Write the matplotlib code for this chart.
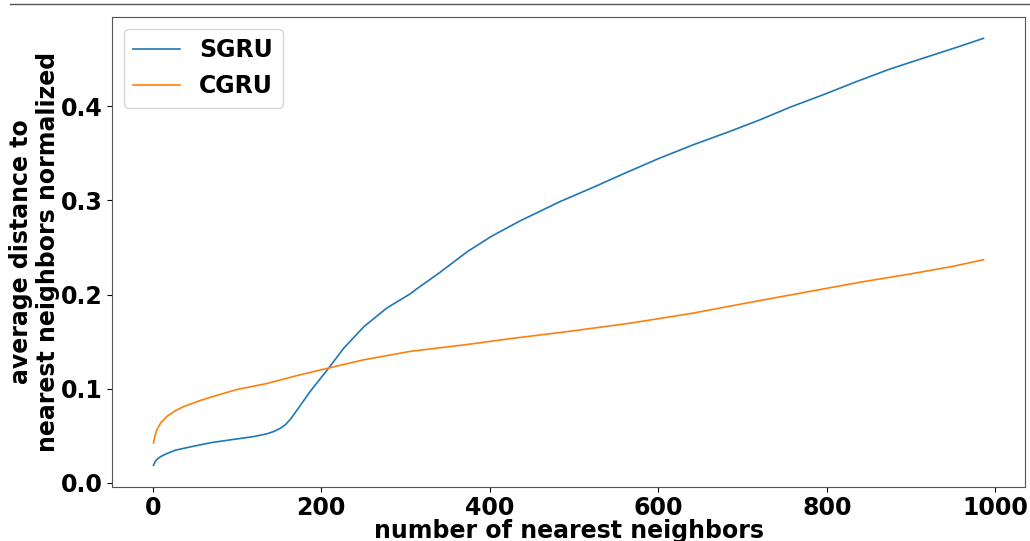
import matplotlib
matplotlib.use("Agg")
import matplotlib.pyplot as plt
from matplotlib.lines import Line2D

# SGRU curve
sgru_x = [1, 3, 6, 10, 17, 27, 37, 50, 69, 100, 120, 136, 144, 152, 158, 164, 172,
          187, 209, 227, 251, 278, 306, 312, 340, 374, 402, 435, 484, 523, 563,
          602, 642, 685, 721, 757, 796, 836, 875, 915, 954, 986]
sgru_y = [0.0184, 0.0225, 0.0255, 0.028, 0.031, 0.0345, 0.0365, 0.039, 0.0425,
          0.0465, 0.049, 0.052, 0.0545, 0.058, 0.062, 0.068, 0.078, 0.097, 0.1219,
          0.1432, 0.1661, 0.1857, 0.2009, 0.2051, 0.2229, 0.2459, 0.2618, 0.2778,
          0.2990, 0.3140, 0.3300, 0.3451, 0.3593, 0.3734, 0.3858, 0.3993, 0.4124,
          0.4266, 0.4397, 0.4514, 0.4627, 0.4723]

# CGRU curve
cgru_x = [1, 2.5, 5, 9.5, 17, 27, 37, 57, 75, 100, 136, 170, 209, 250, 306, 370,
          431, 500, 568, 640, 705, 775, 841, 900, 950, 986]
cgru_y = [0.0422, 0.049, 0.0563, 0.0635, 0.0705, 0.0765, 0.081, 0.0875, 0.0925,
          0.099, 0.1055, 0.1135, 0.1219, 0.1305, 0.1396, 0.1465, 0.1538, 0.1615,
          0.1697, 0.1800, 0.1910, 0.2025, 0.2133, 0.2220, 0.2300, 0.2370]

series_labels = ["SGRU", "CGRU"]
xlabel = "number of nearest neighbors"
ylabel = "average distance to\nnearest neighbors normalized"
xticks = [0, 200, 400, 600, 800, 1000]
yticks = [0.0, 0.1, 0.2, 0.3, 0.4]
ytick_labels = ["0.0", "0.1", "0.2", "0.3", "0.4"]

fig = plt.figure(figsize=(10.3, 5.41), dpi=100)
ax = fig.add_axes([112 / 1030, 1 - 486.7 / 541, (1025 - 112) / 1030, (486.7 - 17) / 541])

ax.plot(sgru_x, sgru_y, color="#1f77b4", lw=1.2, label=series_labels[0])
ax.plot(cgru_x, cgru_y, color="#ff7f0e", lw=1.2, label=series_labels[1])

ax.set_xticks(xticks)
ax.set_yticks(yticks)
ax.set_yticklabels(ytick_labels)
for lab in ax.get_xticklabels() + ax.get_yticklabels():
    lab.set_fontsize(17)
    lab.set_fontweight("bold")

ax.set_xlabel(xlabel, fontsize=17, fontweight="bold", labelpad=-1)
ax.set_ylabel(ylabel, fontsize=17, fontweight="bold", labelpad=0)

for sp in ax.spines.values():
    sp.set_color("#555555")

ax.legend(loc="upper left", prop={"size": 17, "weight": "bold"})

fig.add_artist(Line2D([10 / 1030, 1.0], [1 - 4 / 541, 1 - 4 / 541],
                      transform=fig.transFigure, color="#555555", lw=1))

fig.savefig("out.png", dpi=100)
